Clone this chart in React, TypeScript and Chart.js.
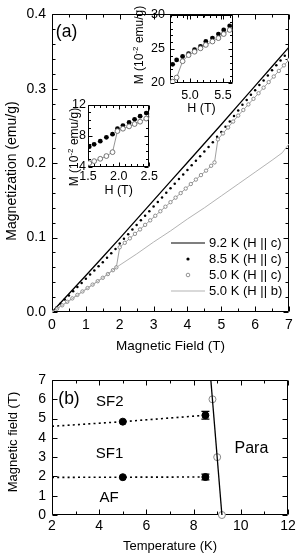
import React, { useEffect, useRef } from 'react';
import { Chart, registerables } from 'chart.js';

Chart.register(...registerables);

const FONT = "'Liberation Sans', Arial, Helvetica, sans-serif";
Chart.defaults.font.family = FONT;
Chart.defaults.color = '#000';

// ---------------- Panel (a): magnetization vs field ----------------
const H_92K = [0, 0.5, 1, 1.5, 2, 2.5, 3, 3.5, 4, 4.5, 5, 5.5, 6, 6.5, 7];
const M_92K = [0, 0.0245, 0.049, 0.074, 0.099, 0.1245, 0.15, 0.1755, 0.201, 0.2265, 0.252, 0.278, 0.304, 0.33, 0.356];

const H_85K = [0, 0.125, 0.25, 0.375, 0.5, 0.625, 0.75, 0.875, 1, 1.125, 1.25, 1.375, 1.5, 1.625, 1.75, 1.875, 2, 2.125, 2.25, 2.375, 2.5, 2.625, 2.75, 2.875, 3, 3.125, 3.25, 3.375, 3.5, 3.625, 3.75, 3.875, 4, 4.125, 4.25, 4.375, 4.5, 4.625, 4.75, 4.875, 5, 5.125, 5.25, 5.375, 5.5, 5.625, 5.75, 5.875, 6, 6.125, 6.25, 6.375, 6.5, 6.625, 6.75, 6.875, 7];
const M_85K = [0, 0.0056, 0.0112, 0.0168, 0.0223, 0.0279, 0.0335, 0.0391, 0.0447, 0.0503, 0.0558, 0.0614, 0.067, 0.0729, 0.0789, 0.0848, 0.092, 0.0983, 0.1045, 0.1108, 0.117, 0.1232, 0.1293, 0.1355, 0.1417, 0.1478, 0.154, 0.1602, 0.1663, 0.1725, 0.1787, 0.1848, 0.191, 0.1972, 0.2033, 0.2095, 0.2157, 0.2218, 0.228, 0.2355, 0.242, 0.249, 0.256, 0.2635, 0.271, 0.2785, 0.285, 0.292, 0.298, 0.305, 0.311, 0.318, 0.325, 0.3315, 0.338, 0.3445, 0.351];

const H_50K_C = [0, 0.15, 0.3, 0.45, 0.6, 0.75, 0.9, 1.05, 1.2, 1.35, 1.5, 1.65, 1.8, 1.9, 2.0, 2.15, 2.3, 2.45, 2.6, 2.75, 2.9, 3.05, 3.2, 3.35, 3.5, 3.65, 3.8, 3.95, 4.1, 4.25, 4.4, 4.55, 4.7, 4.8, 4.9, 5.05, 5.2, 5.35, 5.5, 5.65, 5.8, 5.95, 6.1, 6.25, 6.4, 6.55, 6.7, 6.85, 7.0];
const M_50K_C = [0, 0.0045, 0.009, 0.0137, 0.0183, 0.023, 0.0276, 0.0322, 0.0368, 0.0414, 0.046, 0.051, 0.0562, 0.06, 0.087, 0.093, 0.099, 0.105, 0.111, 0.1171, 0.1232, 0.1293, 0.1354, 0.1415, 0.1476, 0.1537, 0.1598, 0.1659, 0.172, 0.178, 0.184, 0.19, 0.1965, 0.201, 0.232, 0.24, 0.248, 0.256, 0.264, 0.2715, 0.279, 0.2865, 0.294, 0.3015, 0.309, 0.3165, 0.324, 0.3315, 0.339];

const H_50K_B = [0, 0.5, 1, 1.5, 1.9, 2.5, 3, 3.5, 4, 4.5, 5, 5.5, 6, 6.5, 6.8, 7];
const M_50K_B = [0, 0.0148, 0.0303, 0.046, 0.06, 0.078, 0.094, 0.109, 0.125, 0.14, 0.156, 0.172, 0.188, 0.204, 0.214, 0.226];

const A_X_TICKS = [0, 1, 2, 3, 4, 5, 6, 7];
const A_Y_TICKS = [0, 0.1, 0.2, 0.3, 0.4];
const LEGEND_LABELS = ['9.2 K (H || c)', '8.5 K (H || c)', '5.0 K (H || c)', '5.0 K (H || b)'];

// Left inset (10^-2 emu/g)
const HL = [1.52, 1.6, 1.7, 1.8, 1.9, 1.98, 2.07, 2.17, 2.26, 2.35, 2.45, 2.53];
const ML_85K = [6.6, 6.9, 7.3, 7.8, 8.2, 8.9, 9.3, 9.7, 10.1, 10.5, 10.9, 11.4];
const ML_50K = [4.5, 4.75, 5.05, 5.4, 5.9, 8.6, 8.9, 9.2, 9.5, 9.8, 10.2, 10.6];
const L_X_TICKS = [1.5, 2.0, 2.5];
const L_Y_TICKS = [4, 8, 12];

// Right inset (10^-2 emu/g)
const HR = [4.74, 4.8, 4.89, 4.98, 5.07, 5.16, 5.24, 5.34, 5.43, 5.51, 5.6];
const MR_85K = [22.75, 23.4, 23.9, 24.3, 24.9, 25.4, 26.1, 26.6, 27.2, 27.8, 28.4];
const MR_50K = [20.2, 20.8, 23.2, 24.1, 24.6, 25.1, 25.6, 26.1, 26.6, 27.2, 27.8];
const R_X_TICKS = [5.0, 5.5];
const R_Y_TICKS = [20, 25, 30];

// ---------------- Panel (b): phase diagram ----------------
const T_BOUND = [2, 5, 8.5];
const H_SF1_SF2 = [4.6, 4.84, 5.17];
const H_AF_SF1 = [1.95, 1.96, 1.97];
const T_MARK = [5, 8.5];
const H_MARK_UP = [4.84, 5.17];
const H_MARK_LO = [1.96, 1.97];
const H_ERR_UP = [0, 0.2];
const H_ERR_LO = [0, 0.15];
const T_TC = [8.8, 9.0, 9.2];
const H_TC = [6, 3, 0];
const T_PHASE = [8.73, 9.2];
const H_PHASE = [7, 0];
const B_X_TICKS = [2, 4, 6, 8, 10, 12];
const B_Y_TICKS = [0, 1, 2, 3, 4, 5, 6, 7];

const pts = (xs: number[], ys: number[]) => xs.map((x, i) => ({ x, y: ys[i] }));

function makeScale(o: any) {
  return {
    type: 'linear',
    min: o.min,
    max: o.max,
    grid: { display: false, drawTicks: false },
    border: { display: false },
    ticks: {
      autoSkip: false,
      maxRotation: 0,
      minRotation: 0,
      padding: o.pad,
      color: '#000',
      font: { family: FONT, size: o.size },
      callback: (v: any) => o.fmt(Number(v)),
    },
    title: o.title
      ? { display: true, text: o.title, color: '#000', font: { family: FONT, size: o.titleSize }, padding: o.titlePad }
      : { display: false },
    afterBuildTicks: (s: any) => {
      s.ticks = o.ticks.map((v: number) => ({ value: v }));
    },
    afterFit: (s: any) => {
      if (o.horizontal) s.height = o.fit;
      else s.width = o.fit;
    },
  };
}

function framePlugin(cfg: { xMinor: number; yMinor: number; major: number; minor: number }) {
  return {
    id: 'frame',
    beforeDatasetsDraw(chart: any) {
      const { ctx, chartArea: a } = chart;
      const xs = chart.scales.x;
      const ys = chart.scales.y;
      const L = Math.round(a.left) + 0.5;
      const R = Math.round(a.right) - 0.5;
      const T = Math.round(a.top) + 0.5;
      const B = Math.round(a.bottom) - 0.5;
      ctx.save();
      ctx.strokeStyle = '#000';
      ctx.lineWidth = 1;
      ctx.beginPath();
      ctx.rect(L, T, R - L, B - T);
      const tick = (v: number, isX: boolean, len: number) => {
        if (isX) {
          const p = Math.round(xs.getPixelForValue(v)) + 0.5;
          ctx.moveTo(p, B); ctx.lineTo(p, B - len);
          ctx.moveTo(p, T); ctx.lineTo(p, T + len);
        } else {
          const p = Math.round(ys.getPixelForValue(v)) + 0.5;
          ctx.moveTo(L, p); ctx.lineTo(L + len, p);
          ctx.moveTo(R, p); ctx.lineTo(R - len, p);
        }
      };
      xs.ticks.forEach((t: any) => tick(t.value, true, cfg.major));
      ys.ticks.forEach((t: any) => tick(t.value, false, cfg.major));
      const minor = (scale: any, step: number, isX: boolean) => {
        const n0 = Math.ceil(scale.min / step - 1e-6);
        const n1 = Math.floor(scale.max / step + 1e-6);
        for (let n = n0; n <= n1; n++) {
          const v = n * step;
          if (scale.ticks.some((t: any) => Math.abs(t.value - v) < step * 0.01)) continue;
          tick(v, isX, cfg.minor);
        }
      };
      minor(xs, cfg.xMinor, true);
      minor(ys, cfg.yMinor, false);
      ctx.stroke();
      ctx.restore();
    },
  };
}

type TextItem = {
  text?: string;
  parts?: { t: string; sup?: boolean }[];
  x?: number; y?: number; px?: number; py?: number;
  size: number; rot?: number; align?: CanvasTextAlign;
};

function textPlugin(items: TextItem[]) {
  return {
    id: 'texts',
    afterDraw(chart: any) {
      const { ctx } = chart;
      const xs = chart.scales.x;
      const ys = chart.scales.y;
      for (const it of items) {
        const px = it.px !== undefined ? it.px : xs.getPixelForValue(it.x);
        const py = it.py !== undefined ? it.py : ys.getPixelForValue(it.y);
        ctx.save();
        ctx.translate(px, py);
        if (it.rot) ctx.rotate(it.rot);
        ctx.fillStyle = '#000';
        ctx.textBaseline = 'middle';
        if (it.parts) {
          const supSize = Math.round(it.size * 0.7);
          let w = 0;
          const widths = it.parts.map((p) => {
            ctx.font = `${p.sup ? supSize : it.size}px ${FONT}`;
            const ww = ctx.measureText(p.t).width;
            w += ww;
            return ww;
          });
          let x = -w / 2;
          ctx.textAlign = 'left';
          it.parts.forEach((p, i) => {
            ctx.font = `${p.sup ? supSize : it.size}px ${FONT}`;
            ctx.fillText(p.t, x, p.sup ? -it.size * 0.35 : 0);
            x += widths[i];
          });
        } else {
          ctx.font = `${it.size}px ${FONT}`;
          ctx.textAlign = it.align || 'center';
          ctx.fillText(it.text, 0, 0);
        }
        ctx.restore();
      }
    },
  };
}

const legendPlugin = {
  id: 'legendA',
  afterDraw(chart: any) {
    const { ctx, chartArea: a } = chart;
    const textX = a.right - 80;
    const x0 = a.right - 118;
    const x1 = a.right - 84;
    const xm = (x0 + x1) / 2;
    ctx.save();
    ctx.font = `13px ${FONT}`;
    ctx.textBaseline = 'middle';
    ctx.textAlign = 'left';
    LEGEND_LABELS.forEach((label, i) => {
      const y = a.bottom - 69 + i * 16;
      if (i === 0 || i === 3) {
        ctx.beginPath();
        ctx.strokeStyle = i === 0 ? '#000' : '#aaa';
        ctx.lineWidth = i === 0 ? 1.2 : 0.9;
        ctx.moveTo(x0, y); ctx.lineTo(x1, y);
        ctx.stroke();
      } else if (i === 1) {
        ctx.beginPath(); ctx.fillStyle = '#000';
        ctx.arc(xm, y, 1.6, 0, Math.PI * 2); ctx.fill();
      } else {
        ctx.beginPath(); ctx.strokeStyle = '#777'; ctx.lineWidth = 0.8; ctx.fillStyle = '#fff';
        ctx.arc(xm, y, 1.8, 0, Math.PI * 2); ctx.fill(); ctx.stroke();
      }
      ctx.fillStyle = '#000';
      ctx.fillText(label, textX, y + 0.5);
    });
    ctx.restore();
  },
};

const errorBarPlugin = {
  id: 'errBars',
  afterDatasetsDraw(chart: any) {
    const { ctx } = chart;
    const xs = chart.scales.x;
    const ys = chart.scales.y;
    ctx.save();
    ctx.strokeStyle = '#000';
    ctx.lineWidth = 1.3;
    const draw = (hs: number[], errs: number[]) => {
      T_MARK.forEach((t, i) => {
        if (!errs[i]) return;
        const px = xs.getPixelForValue(t);
        const yt = ys.getPixelForValue(hs[i] + errs[i]);
        const yb = ys.getPixelForValue(hs[i] - errs[i]);
        ctx.beginPath();
        ctx.moveTo(px, yt); ctx.lineTo(px, yb);
        ctx.moveTo(px - 4, yt); ctx.lineTo(px + 4, yt);
        ctx.moveTo(px - 4, yb); ctx.lineTo(px + 4, yb);
        ctx.stroke();
      });
    };
    draw(H_MARK_UP, H_ERR_UP);
    draw(H_MARK_LO, H_ERR_LO);
    ctx.restore();
  },
};

const baseOptions = (padding: any, scales: any) => ({
  animation: false,
  responsive: false,
  maintainAspectRatio: false,
  events: [],
  layout: { padding },
  plugins: { legend: { display: false }, tooltip: { enabled: false } },
  scales,
});

function buildMain(canvas: HTMLCanvasElement) {
  return new Chart(canvas, {
    type: 'scatter',
    data: {
      datasets: [
        { data: pts(H_50K_B, M_50K_B), showLine: true, borderColor: '#aaa', borderWidth: 0.9, pointRadius: 0 },
        { data: pts(H_50K_C, M_50K_C), showLine: true, borderColor: '#888', borderWidth: 0.8, pointRadius: 1.7, pointBorderColor: '#777', pointBackgroundColor: '#fff', pointBorderWidth: 0.8 },
        { data: pts(H_85K, M_85K), showLine: false, pointRadius: 1.25, pointBackgroundColor: '#000', pointBorderColor: '#000', pointBorderWidth: 0 },
        { data: pts(H_92K, M_92K), showLine: true, borderColor: '#000', borderWidth: 1.3, pointRadius: 0 },
      ],
    } as any,
    options: baseOptions({ left: 0, top: 7, right: 11, bottom: 0 }, {
      x: makeScale({ min: 0, max: 7, ticks: A_X_TICKS, fmt: (v: number) => String(v), size: 14, pad: 4.5, fit: 48, horizontal: true, title: 'Magnetic Field (T)', titleSize: 13.5, titlePad: { top: 0, bottom: 6 } }),
      y: makeScale({ min: 0, max: 0.4, ticks: A_Y_TICKS, fmt: (v: number) => v.toFixed(1), size: 14, pad: 6, fit: 52, horizontal: false }),
    }) as any,
    plugins: [
      framePlugin({ xMinor: 0.5, yMinor: 0.02, major: 5, minor: 3 }),
      textPlugin([
        { text: '(a)', x: 0.43, y: 0.376, size: 17.5 },
        { text: 'Magnetization (emu/g)', px: 12, py: 171, size: 14, rot: -Math.PI / 2 },
      ]),
      legendPlugin,
    ],
  });
}

function buildInset(canvas: HTMLCanvasElement, kind: 'L' | 'R') {
  const L = kind === 'L';
  const H = L ? HL : HR;
  const M85 = L ? ML_85K : MR_85K;
  const M50 = L ? ML_50K : MR_50K;
  const titleParts = [{ t: 'M (10' }, { t: '-2', sup: true }, { t: ' emu/g)' }];
  return new Chart(canvas, {
    type: 'scatter',
    data: {
      datasets: [
        { data: pts(H, M50), showLine: true, borderColor: '#888', borderWidth: 0.9, pointRadius: 2.4, pointBorderColor: '#666', pointBackgroundColor: '#fff', pointBorderWidth: 0.9 },
        { data: pts(H, M85), showLine: false, pointRadius: 2.4, pointBackgroundColor: '#000', pointBorderColor: '#000', pointBorderWidth: 0 },
      ],
    } as any,
    options: baseOptions(
      L ? { left: 0, top: 7, right: 10, bottom: 0 } : { left: 0, top: 15, right: 12, bottom: 0 },
      {
        x: makeScale({ min: L ? 1.5 : 4.7, max: L ? 2.5 : 5.65, ticks: L ? L_X_TICKS : R_X_TICKS, fmt: (v: number) => v.toFixed(1), size: 12.5, pad: L ? 2 : 5, fit: L ? 33 : 37, horizontal: true, title: 'H (T)', titleSize: 12.5, titlePad: { top: 0, bottom: L ? 2 : 4 } }),
        y: makeScale({ min: L ? 4 : 20, max: L ? 12 : 30, ticks: L ? L_Y_TICKS : R_Y_TICKS, fmt: (v: number) => String(v), size: 12.5, pad: L ? 2 : 5, fit: L ? 28 : 45, horizontal: false }),
      }
    ) as any,
    plugins: [
      framePlugin({ xMinor: 0.1, yMinor: 1, major: 4, minor: 2.5 }),
      textPlugin([{ parts: titleParts, px: 15, py: L ? 52 : 45, size: 12, rot: -Math.PI / 2 }]),
    ],
  });
}

function buildPhase(canvas: HTMLCanvasElement) {
  return new Chart(canvas, {
    type: 'scatter',
    data: {
      datasets: [
        { data: pts(T_BOUND, H_SF1_SF2), showLine: true, borderColor: '#000', borderWidth: 1.6, borderDash: [2, 3.2], pointRadius: 0 },
        { data: pts(T_BOUND, H_AF_SF1), showLine: true, borderColor: '#000', borderWidth: 1.6, borderDash: [2, 3.2], pointRadius: 0 },
        { data: pts(T_PHASE, H_PHASE), showLine: true, borderColor: '#000', borderWidth: 1.3, pointRadius: 0 },
        { data: pts(T_MARK, H_MARK_UP), showLine: false, pointRadius: 3.5, pointBackgroundColor: '#000', pointBorderColor: '#000' },
        { data: pts(T_MARK, H_MARK_LO), showLine: false, pointRadius: 3.5, pointBackgroundColor: '#000', pointBorderColor: '#000' },
        { data: pts(T_TC, H_TC), showLine: false, pointRadius: 3.5, pointBackgroundColor: '#fff', pointBorderColor: '#888', pointBorderWidth: 1, clip: false },
      ],
    } as any,
    options: baseOptions({ left: 0, top: 20, right: 12, bottom: 0 }, {
      x: makeScale({ min: 2, max: 12, ticks: B_X_TICKS, fmt: (v: number) => String(v), size: 14, pad: 3, fit: 44, horizontal: true, title: 'Temperature (K)', titleSize: 13, titlePad: { top: 0, bottom: 5 } }),
      y: makeScale({ min: 0, max: 7, ticks: B_Y_TICKS, fmt: (v: number) => String(v), size: 14, pad: 6, fit: 52, horizontal: false }),
    }) as any,
    plugins: [
      framePlugin({ xMinor: 1, yMinor: 1, major: 5, minor: 3 }),
      errorBarPlugin,
      textPlugin([
        { text: '(b)', x: 2.72, y: 6.0, size: 17.5 },
        { text: 'SF2', x: 4.45, y: 5.86, size: 15 },
        { text: 'SF1', x: 4.44, y: 3.16, size: 15 },
        { text: 'AF', x: 4.42, y: 0.9, size: 15 },
        { text: 'Para', x: 10.45, y: 3.42, size: 16 },
        { text: 'Magnetic field (T)', px: 13.5, py: 82, size: 13, rot: -Math.PI / 2 },
      ]),
    ],
  });
}

function ChartCanvas(props: { left: number; top: number; width: number; height: number; build: (c: HTMLCanvasElement) => Chart }) {
  const ref = useRef<HTMLCanvasElement | null>(null);
  useEffect(() => {
    const chart = props.build(ref.current as HTMLCanvasElement);
    return () => chart.destroy();
  }, []);
  return (
    <canvas
      ref={ref}
      width={props.width}
      height={props.height}
      style={{ position: 'absolute', left: props.left, top: props.top, width: props.width, height: props.height }}
    />
  );
}

export default function App() {
  return (
    <div style={{ position: 'absolute', left: 0, top: 0, width: 300, height: 559, background: '#fff', overflow: 'hidden' }}>
      <ChartCanvas left={0} top={0} width={300} height={360} build={buildMain} />
      <ChartCanvas left={60} top={95} width={100} height={105} build={(c) => buildInset(c, 'L')} />
      <ChartCanvas left={125} top={0} width={120} height={120} build={(c) => buildInset(c, 'R')} />
      <ChartCanvas left={0} top={360} width={300} height={199} build={buildPhase} />
    </div>
  );
}
